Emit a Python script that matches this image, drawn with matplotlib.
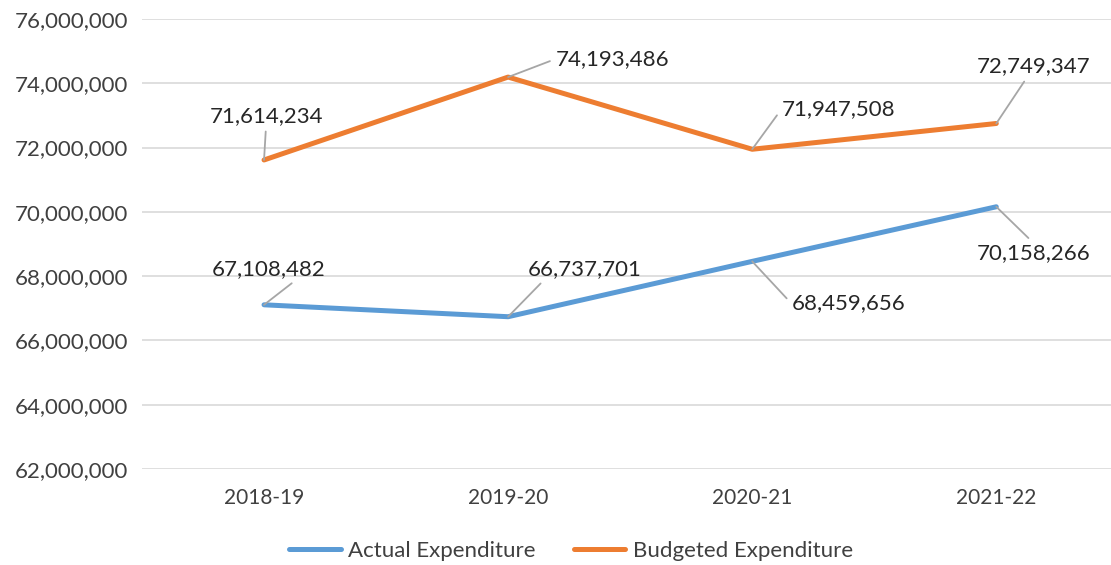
import matplotlib.pyplot as plt
from matplotlib.ticker import FuncFormatter

years = ['2018-19', '2019-20', '2020-21', '2021-22']
actual = [67108482, 66737701, 68459656, 70158266]
budgeted = [71614234, 74193486, 71947508, 72749347]

# label offsets (pixels) and leader attach point on the text box
actual_lbl = [((5, 36), (0.75, 0)), ((77, 48), (0.15, 0)), ((96, -42), (0, 0.5)), ((37, -46), (0.5, 1))]
budget_lbl = [((2, 44), (0.5, 0)), ((104, 18), (0, 0.5)), ((86, 40), (0, 0.5)), ((37, 57), (0.45, 0))]

blue = '#5B9BD5'
orange = '#ED7D31'
grey = '#A6A6A6'

plt.rcParams['font.family'] = ['Lato', 'DejaVu Sans']

fig = plt.figure(figsize=(11.11, 5.65), dpi=100)
ax = fig.add_axes([142 / 1111, 1 - 469 / 565, 1 - 142 / 1111, (469 - 19) / 565])

x = range(len(years))
ax.plot(x, actual, color=blue, linewidth=3.6, label='Actual Expenditure', solid_capstyle='round')
ax.plot(x, budgeted, color=orange, linewidth=3.6, label='Budgeted Expenditure', solid_capstyle='round')

for series, lbls in ((actual, actual_lbl), (budgeted, budget_lbl)):
    for i, v in enumerate(series):
        off, rp = lbls[i]
        ax.annotate(f'{v:,}', xy=(i, v), xytext=off, textcoords='offset pixels',
                    ha='center', va='center', fontsize=16, color='#262626',
                    annotation_clip=False,
                    arrowprops=dict(arrowstyle='-', color=grey, lw=1.3,
                                    shrinkA=2, shrinkB=0, relpos=rp))

ax.set_ylim(62000000, 76000000)
ax.set_yticks(range(62000000, 76000001, 2000000))
ax.yaxis.set_major_formatter(FuncFormatter(lambda v, p: f'{int(v):,}'))
ax.set_xlim(-0.5, 3.47)
ax.set_xticks(list(x))
ax.set_xticklabels(years)
ax.grid(axis='y', color='#D9D9D9', linewidth=1.2)
ax.set_axisbelow(True)
for s in ax.spines.values():
    s.set_visible(False)
ax.tick_params(length=0, labelsize=16, colors='#404040', pad=10)
ax.tick_params(axis='x', pad=14, labelsize=15)

fig.legend(loc='center', bbox_to_anchor=(0.514, 0.025), ncol=2, frameon=False,
           fontsize=16, handlelength=2.3, handletextpad=0.35, columnspacing=1.7,
           labelcolor='#404040')

fig.savefig('out.png', dpi=100)
